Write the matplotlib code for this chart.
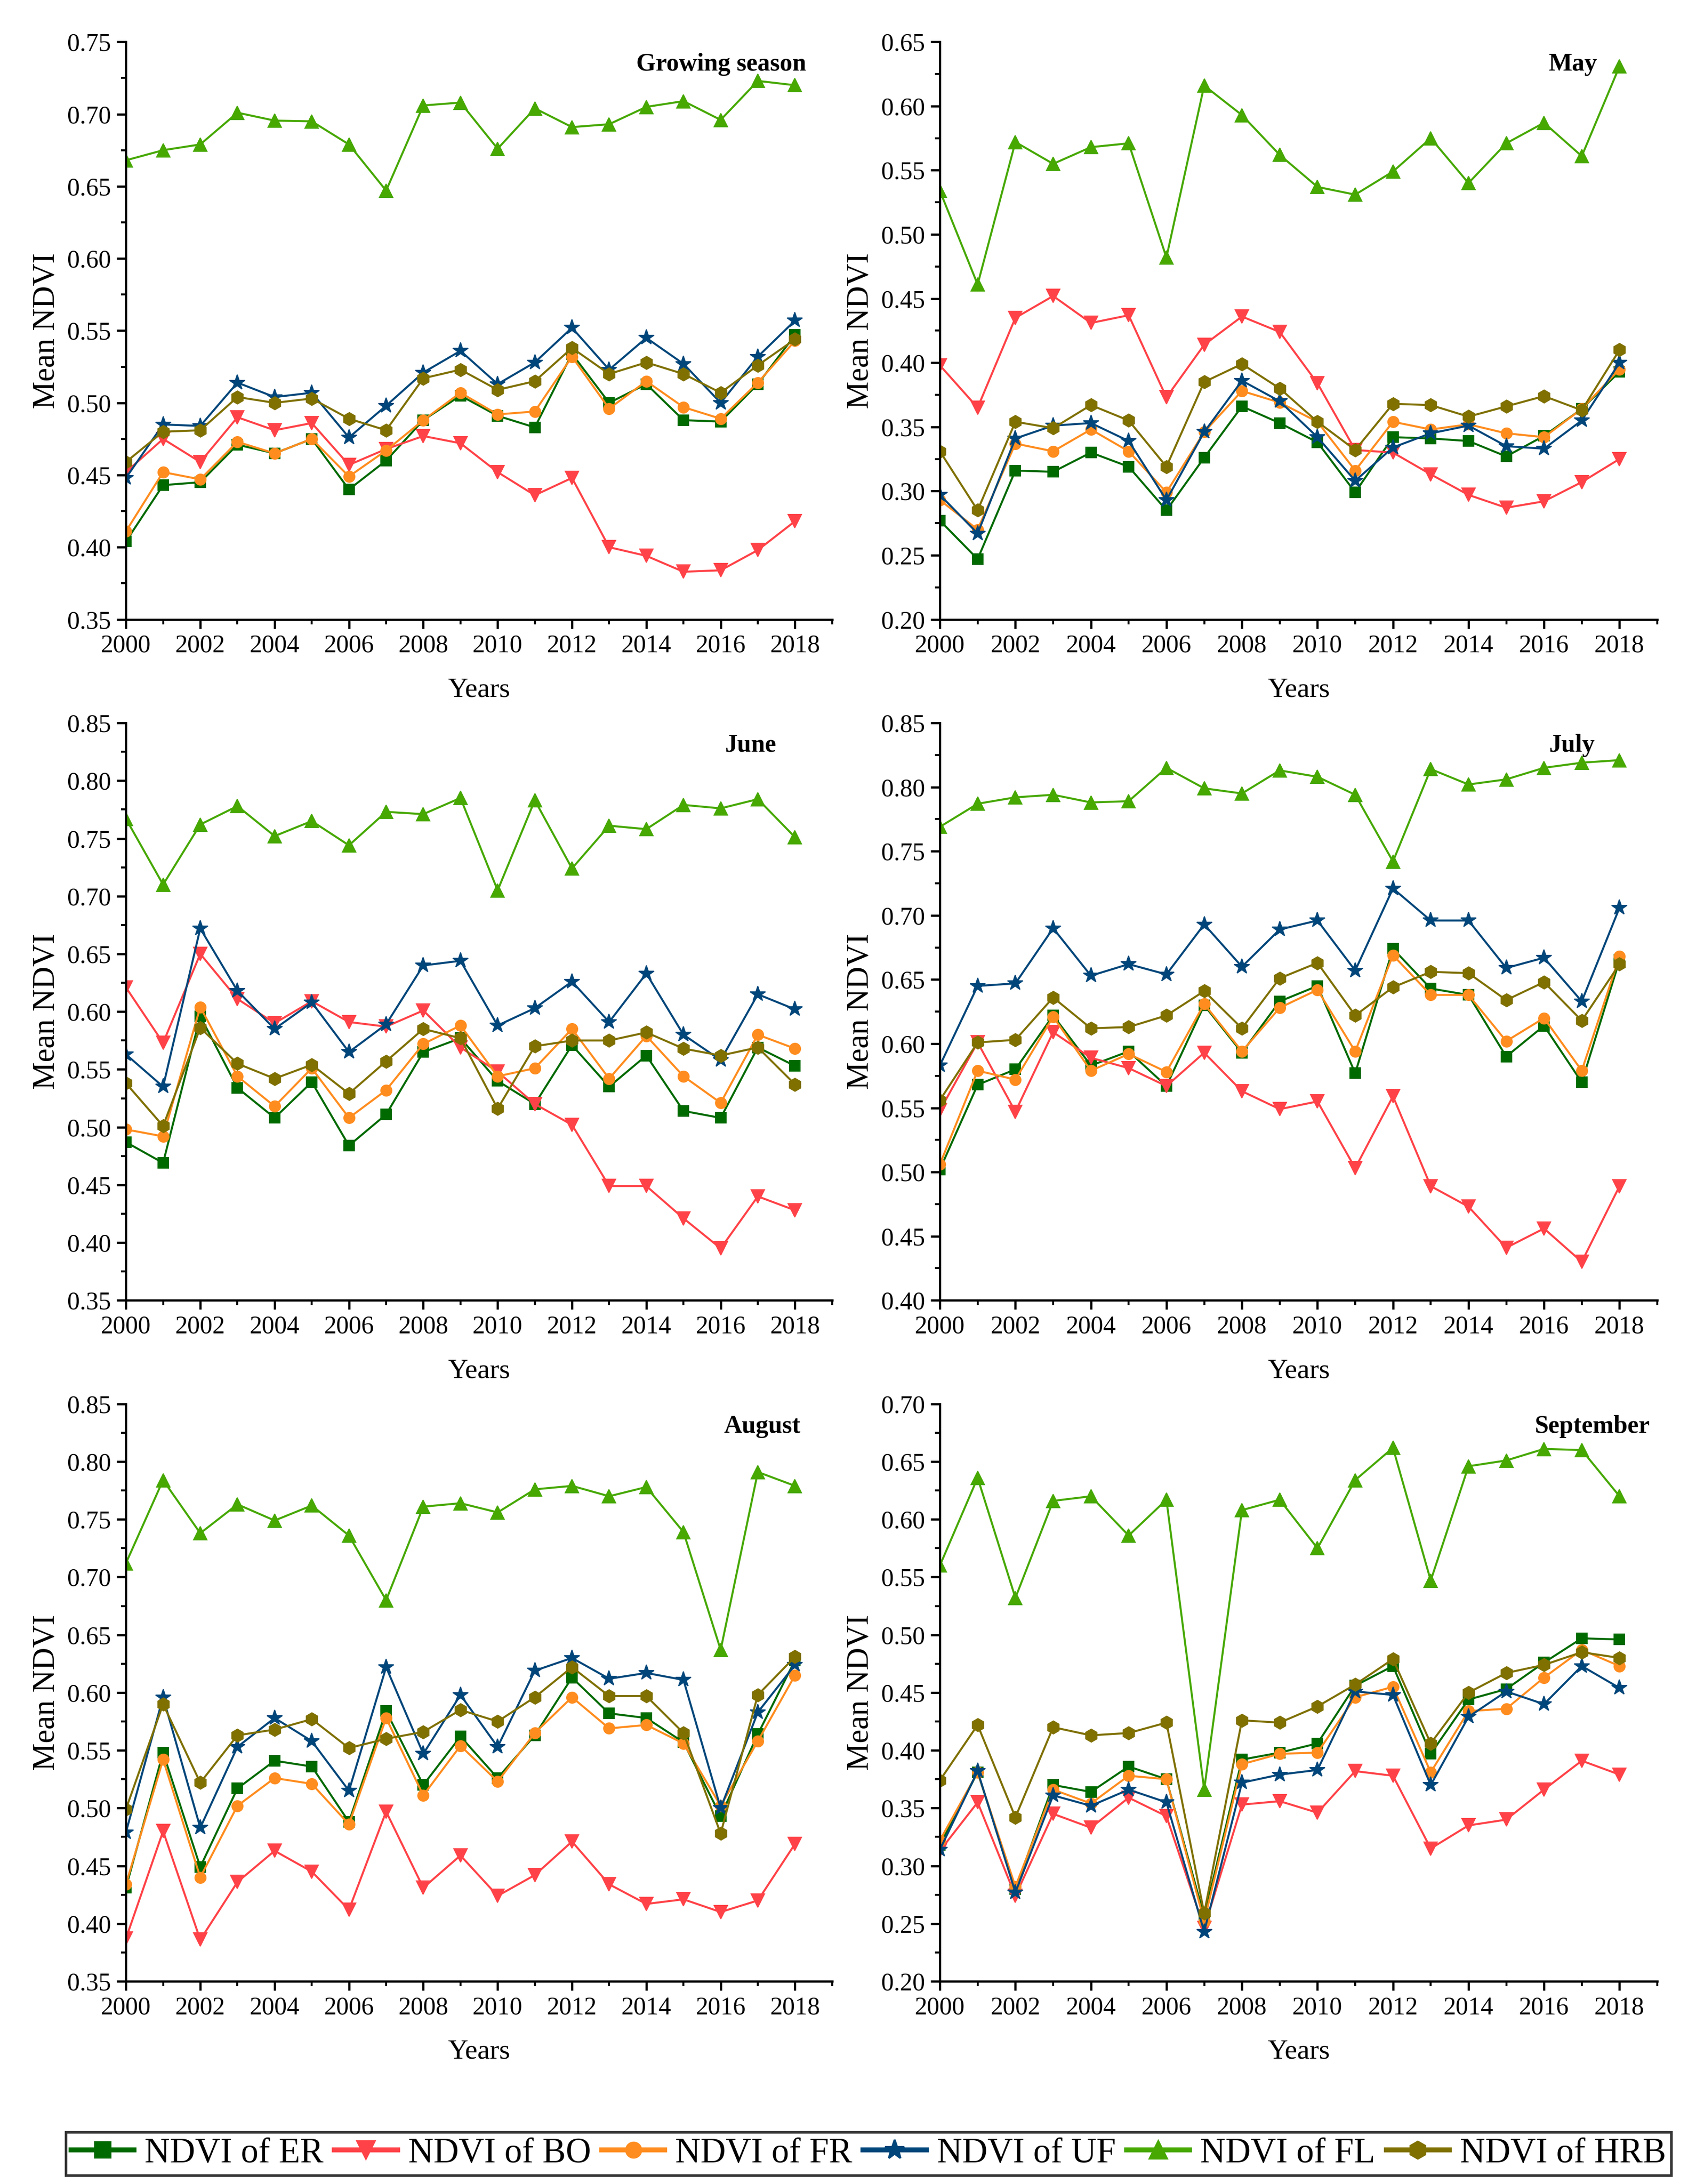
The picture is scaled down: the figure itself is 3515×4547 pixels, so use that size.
import matplotlib
matplotlib.use("Agg")
import matplotlib.pyplot as plt
from matplotlib.lines import Line2D
from matplotlib.ticker import MultipleLocator, FormatStrFormatter

plt.rcParams['font.family'] = ['Liberation Serif', 'DejaVu Serif']

years = list(range(2000, 2019))

series_names = ["NDVI of ER", "NDVI of BO", "NDVI of FR", "NDVI of UF", "NDVI of FL", "NDVI of HRB"]
series_colors = ["#006A00", "#FF4247", "#FF8C1E", "#00467A", "#46A800", "#7F7000"]
series_markers = ["s", "v", "o", "*", "^", "h"]

panel_titles = ["Growing season", "May", "June", "July", "August", "September"]

# ---- Growing season ----
gs_er = [0.404, 0.443, 0.445, 0.471, 0.465, 0.475, 0.440, 0.460, 0.488, 0.505, 0.491, 0.483, 0.534, 0.500, 0.513, 0.488, 0.487, 0.513, 0.547]
gs_bo = [0.452, 0.475, 0.459, 0.490, 0.481, 0.486, 0.457, 0.468, 0.477, 0.472, 0.452, 0.436, 0.448, 0.400, 0.394, 0.383, 0.384, 0.398, 0.418]
gs_fr = [0.411, 0.452, 0.447, 0.473, 0.465, 0.475, 0.449, 0.467, 0.488, 0.507, 0.492, 0.494, 0.532, 0.496, 0.515, 0.497, 0.489, 0.514, 0.543]
gs_uf = [0.448, 0.485, 0.484, 0.514, 0.504, 0.507, 0.476, 0.498, 0.521, 0.536, 0.513, 0.528, 0.552, 0.523, 0.545, 0.527, 0.500, 0.532, 0.557]
gs_fl = [0.668, 0.675, 0.679, 0.701, 0.6955, 0.695, 0.679, 0.647, 0.706, 0.708, 0.676, 0.704, 0.691, 0.693, 0.705, 0.709, 0.696, 0.723, 0.720]
gs_hrb = [0.459, 0.480, 0.481, 0.504, 0.500, 0.503, 0.489, 0.481, 0.517, 0.523, 0.509, 0.515, 0.538, 0.520, 0.528, 0.520, 0.507, 0.526, 0.544]

# ---- May ----
may_er = [0.277, 0.247, 0.316, 0.315, 0.330, 0.319, 0.285, 0.326, 0.366, 0.353, 0.338, 0.299, 0.342, 0.341, 0.339, 0.327, 0.343, 0.364, 0.393]
may_bo = [0.398, 0.365, 0.435, 0.452, 0.431, 0.437, 0.373, 0.414, 0.436, 0.424, 0.384, 0.332, 0.330, 0.313, 0.297, 0.287, 0.292, 0.307, 0.325]
may_fr = [0.293, 0.270, 0.337, 0.331, 0.348, 0.331, 0.299, 0.346, 0.378, 0.369, 0.354, 0.316, 0.354, 0.348, 0.352, 0.345, 0.342, 0.364, 0.395]
may_uf = [0.297, 0.267, 0.341, 0.351, 0.353, 0.339, 0.293, 0.346, 0.386, 0.370, 0.342, 0.308, 0.334, 0.345, 0.351, 0.335, 0.333, 0.355, 0.400]
may_fl = [0.534, 0.461, 0.572, 0.555, 0.568, 0.571, 0.482, 0.616, 0.593, 0.562, 0.537, 0.531, 0.549, 0.575, 0.540, 0.571, 0.587, 0.561, 0.631]
may_hrb = [0.331, 0.285, 0.354, 0.349, 0.367, 0.355, 0.319, 0.385, 0.399, 0.380, 0.354, 0.332, 0.368, 0.367, 0.358, 0.366, 0.374, 0.363, 0.410]

# ---- June ----
jun_er = [0.487, 0.469, 0.596, 0.534, 0.508, 0.539, 0.484, 0.511, 0.565, 0.577, 0.540, 0.520, 0.571, 0.535, 0.562, 0.514, 0.508, 0.569, 0.553]
jun_bo = [0.621, 0.573, 0.650, 0.611, 0.590, 0.609, 0.591, 0.587, 0.601, 0.569, 0.548, 0.520, 0.502, 0.449, 0.449, 0.421, 0.395, 0.440, 0.428]
jun_fr = [0.498, 0.492, 0.604, 0.544, 0.518, 0.551, 0.508, 0.532, 0.572, 0.588, 0.544, 0.551, 0.585, 0.542, 0.579, 0.544, 0.521, 0.580, 0.568]
jun_uf = [0.563, 0.535, 0.672, 0.618, 0.585, 0.608, 0.565, 0.589, 0.640, 0.644, 0.588, 0.603, 0.626, 0.591, 0.633, 0.580, 0.558, 0.615, 0.602]
jun_fl = [0.767, 0.710, 0.762, 0.778, 0.752, 0.765, 0.744, 0.773, 0.771, 0.785, 0.705, 0.783, 0.724, 0.761, 0.758, 0.779, 0.776, 0.784, 0.751]
jun_hrb = [0.538, 0.501, 0.586, 0.555, 0.542, 0.554, 0.529, 0.557, 0.585, 0.577, 0.516, 0.570, 0.575, 0.575, 0.582, 0.568, 0.562, 0.569, 0.537]

# ---- July ----
jul_er = [0.502, 0.568, 0.580, 0.622, 0.583, 0.594, 0.567, 0.630, 0.593, 0.633, 0.645, 0.577, 0.674, 0.643, 0.638, 0.590, 0.614, 0.570, 0.665]
jul_bo = [0.548, 0.601, 0.547, 0.609, 0.589, 0.581, 0.567, 0.593, 0.563, 0.549, 0.555, 0.503, 0.559, 0.489, 0.473, 0.441, 0.456, 0.430, 0.489]
jul_fr = [0.506, 0.579, 0.572, 0.621, 0.579, 0.592, 0.578, 0.631, 0.594, 0.628, 0.642, 0.594, 0.669, 0.638, 0.638, 0.602, 0.620, 0.579, 0.668]
jul_uf = [0.583, 0.645, 0.647, 0.690, 0.653, 0.662, 0.654, 0.693, 0.660, 0.689, 0.696, 0.657, 0.721, 0.696, 0.696, 0.659, 0.667, 0.633, 0.706]
jul_fl = [0.769, 0.787, 0.792, 0.794, 0.788, 0.789, 0.815, 0.799, 0.795, 0.813, 0.808, 0.794, 0.742, 0.814, 0.802, 0.806, 0.815, 0.819, 0.821]
jul_hrb = [0.556, 0.601, 0.603, 0.636, 0.612, 0.613, 0.622, 0.641, 0.612, 0.651, 0.663, 0.622, 0.644, 0.656, 0.655, 0.634, 0.648, 0.618, 0.662]

# ---- August ----
aug_er = [0.431, 0.548, 0.449, 0.517, 0.541, 0.536, 0.488, 0.584, 0.520, 0.562, 0.526, 0.563, 0.613, 0.582, 0.578, 0.557, 0.493, 0.564, 0.628]
aug_bo = [0.387, 0.480, 0.386, 0.436, 0.463, 0.445, 0.412, 0.497, 0.431, 0.459, 0.424, 0.442, 0.471, 0.434, 0.417, 0.421, 0.410, 0.420, 0.469]
aug_fr = [0.434, 0.542, 0.440, 0.502, 0.526, 0.521, 0.486, 0.578, 0.511, 0.554, 0.523, 0.565, 0.596, 0.569, 0.572, 0.556, 0.502, 0.558, 0.615]
aug_uf = [0.479, 0.596, 0.483, 0.553, 0.578, 0.558, 0.515, 0.622, 0.547, 0.598, 0.553, 0.619, 0.630, 0.612, 0.617, 0.611, 0.500, 0.583, 0.624]
aug_fl = [0.712, 0.784, 0.738, 0.763, 0.749, 0.762, 0.736, 0.680, 0.761, 0.764, 0.756, 0.776, 0.779, 0.770, 0.778, 0.739, 0.637, 0.791, 0.779]
aug_hrb = [0.499, 0.590, 0.522, 0.563, 0.568, 0.577, 0.552, 0.560, 0.566, 0.585, 0.575, 0.596, 0.622, 0.597, 0.597, 0.565, 0.478, 0.598, 0.631]

# ---- September ----
sep_er = [0.318, 0.381, 0.280, 0.370, 0.364, 0.386, 0.375, 0.256, 0.392, 0.398, 0.406, 0.456, 0.473, 0.397, 0.444, 0.453, 0.476, 0.497, 0.496]
sep_bo = [0.313, 0.355, 0.274, 0.345, 0.333, 0.359, 0.343, 0.246, 0.353, 0.356, 0.346, 0.382, 0.378, 0.315, 0.335, 0.340, 0.366, 0.391, 0.379]
sep_fr = [0.322, 0.381, 0.282, 0.366, 0.354, 0.378, 0.375, 0.252, 0.388, 0.397, 0.398, 0.446, 0.455, 0.381, 0.434, 0.436, 0.463, 0.487, 0.473]
sep_uf = [0.314, 0.382, 0.277, 0.361, 0.352, 0.366, 0.355, 0.243, 0.372, 0.379, 0.383, 0.451, 0.448, 0.370, 0.429, 0.451, 0.440, 0.473, 0.454]
sep_fl = [0.560, 0.636, 0.532, 0.616, 0.620, 0.586, 0.617, 0.366, 0.608, 0.617, 0.575, 0.634, 0.662, 0.547, 0.646, 0.651, 0.661, 0.660, 0.620]
sep_hrb = [0.374, 0.422, 0.342, 0.420, 0.413, 0.415, 0.424, 0.259, 0.426, 0.424, 0.438, 0.457, 0.479, 0.406, 0.450, 0.467, 0.474, 0.485, 0.480]

panel_data = [
    [gs_er, gs_bo, gs_fr, gs_uf, gs_fl, gs_hrb],
    [may_er, may_bo, may_fr, may_uf, may_fl, may_hrb],
    [jun_er, jun_bo, jun_fr, jun_uf, jun_fl, jun_hrb],
    [jul_er, jul_bo, jul_fr, jul_uf, jul_fl, jul_hrb],
    [aug_er, aug_bo, aug_fr, aug_uf, aug_fl, aug_hrb],
    [sep_er, sep_bo, sep_fr, sep_uf, sep_fl, sep_hrb],
]
panel_ylims = [(0.35, 0.75), (0.20, 0.65), (0.35, 0.85), (0.40, 0.85), (0.35, 0.85), (0.20, 0.70)]

# ---- layout ----
fig = plt.figure(figsize=(3515 / 300, 4547 / 300), dpi=300)
col_lefts = [0.0746, 0.5568]
col_widths = [0.4184, 0.4250]
row_bottoms = [0.7164, 0.4046, 0.0928]
row_height = 0.2644
title_x = [2018.3, 2017.4, 2017.5, 2017.35, 2018.15, 2018.8]
marker_sizes = {"s": 5.5, "v": 6.5, "o": 5.5, "*": 8.0, "^": 6.5, "h": 6.5}

for i in range(6):
    r, c = divmod(i, 2)
    ax = fig.add_axes([col_lefts[c], row_bottoms[r], col_widths[c], row_height])
    for vals, col, mk in zip(panel_data[i], series_colors, series_markers):
        ax.plot(years, vals, color=col, marker=mk, markersize=marker_sizes[mk],
                linewidth=1.0, markeredgewidth=0.5, markeredgecolor=col)
    ax.set_xlim(2000, 2019)
    ax.set_ylim(*panel_ylims[i])
    ax.xaxis.set_major_locator(MultipleLocator(2))
    ax.xaxis.set_minor_locator(MultipleLocator(1))
    ax.yaxis.set_major_locator(MultipleLocator(0.05))
    ax.yaxis.set_minor_locator(MultipleLocator(0.025))
    ax.yaxis.set_major_formatter(FormatStrFormatter('%.2f'))
    for s in ['top', 'right']:
        ax.spines[s].set_visible(False)
    for s in ['left', 'bottom']:
        ax.spines[s].set_linewidth(1.1)
    ax.tick_params(which='major', direction='out', length=4.5, width=1.1, labelsize=12.5, pad=3)
    ax.tick_params(which='minor', direction='out', length=2.5, width=1.0)
    ax.set_xlabel("Years", fontsize=14, labelpad=10)
    ax.set_ylabel("Mean NDVI", fontsize=15.5, labelpad=3)
    ax.text((title_x[i] - 2000) / 19.0, 0.961, panel_titles[i], transform=ax.transAxes,
            ha='right', va='center', fontsize=12.5, fontweight='bold')

handles = [Line2D([0], [0], color=col, marker=mk, markersize=marker_sizes[mk] + 2,
                  linewidth=2.5, markeredgecolor=col)
           for col, mk in zip(series_colors, series_markers)]
leg = fig.legend(handles, series_names, loc='lower left', ncol=6, mode='expand',
                 bbox_to_anchor=(0.039, 0.004, 0.951, 0.024), fontsize=17.5,
                 frameon=True, fancybox=False, edgecolor='black', borderpad=0.15,
                 handlelength=1.8, handletextpad=0.3, columnspacing=0.2, borderaxespad=0)
leg.get_frame().set_linewidth(1.3)

fig.savefig("out.png", dpi=300)
